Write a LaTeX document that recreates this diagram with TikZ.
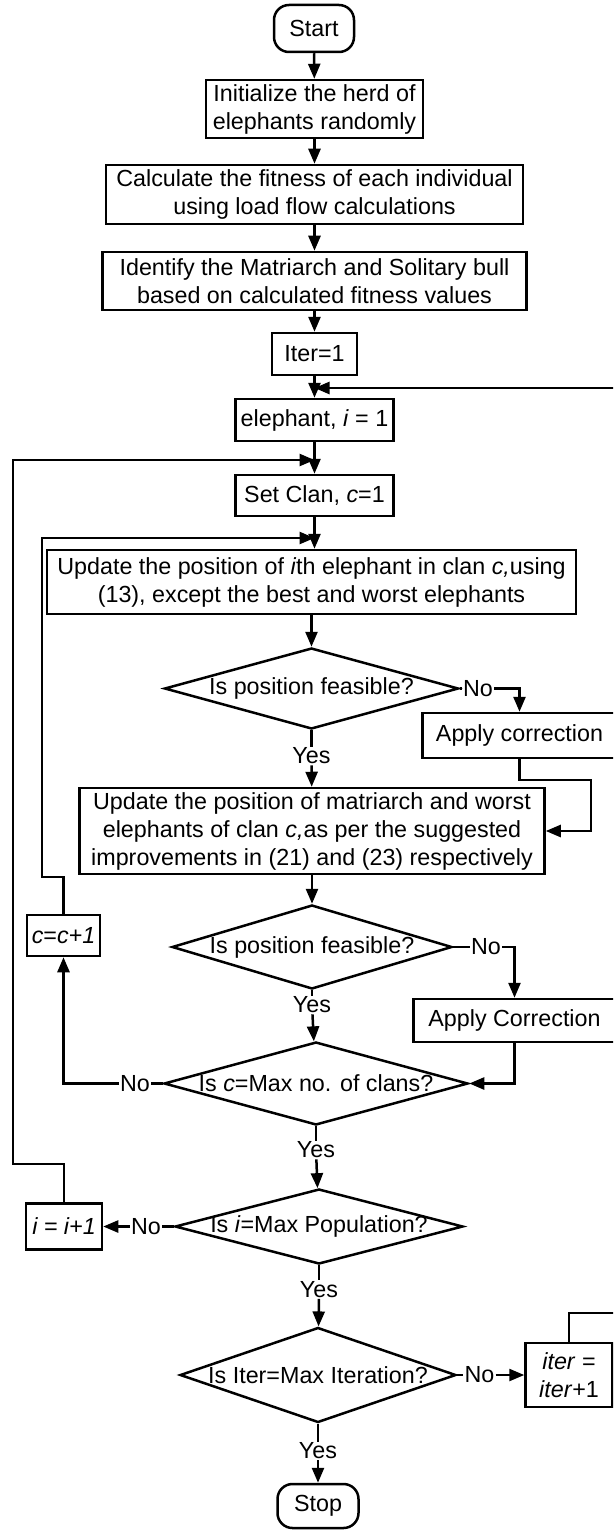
\documentclass[tikz,border=0pt]{standalone}
\usepackage{fontspec}
\setmainfont{Liberation Sans}
\usetikzlibrary{arrows.meta,shapes.geometric,calc}

\begin{document}
\begin{tikzpicture}[x=1pt, y=-1pt,
  font=\fontsize{23.3}{28}\selectfont,
  procbox/.style={draw, line width=2.5pt, rectangle, align=center, inner sep=2pt},
  termbox/.style={draw, line width=2.5pt, rectangle, rounded corners=15pt, inner sep=2pt},
  decision/.style={draw, line width=2.5pt, diamond, aspect=3.6, inner sep=-8pt},
  lbl/.style={inner sep=1pt},
  link/.style={line width=2.5pt},
  flow/.style={line width=2.5pt, -{Triangle[length=15pt,width=12pt]}}]
  \useasboundingbox (0,0) rectangle (613,1530);
  \clip (0,0) rectangle (613,1530);

  \node[termbox, minimum width=80pt, minimum height=47pt] at (314,28.5) (start) {Start};
  \node[procbox, minimum width=217pt, minimum height=58pt] at (314.5,109) (init) {Initialize the herd of\\elephants randomly};
  \node[procbox, minimum width=417pt, minimum height=59pt] at (314.5,194.5) (calc) {Calculate the fitness of each individual\\using load flow calculations};
  \node[procbox, minimum width=424pt, minimum height=58pt] at (314.5,281) (ident) {Identify the Matriarch and Solitary bull\\based on calculated fitness values};
  \node[procbox, minimum width=85pt, minimum height=42pt] at (314.5,354) (iter1) {Iter=1};
  \node[procbox, minimum width=158pt, minimum height=42pt] at (314.5,420) (eleph) {elephant, \textit{i} = 1};
  \node[procbox, minimum width=158pt, minimum height=41pt] at (314.5,495.5) (setclan) {Set Clan, \textit{c}=1};
  \node[procbox, minimum width=529pt, minimum height=64pt] at (311.5,582) (upd1) {Update the position of \textit{i}th elephant in clan \textit{c,}using\\(13), except the best and worst elephants};

  \node[decision, minimum width=294pt, minimum height=81pt] at (311.5,688.5) (feas1) {Is position feasible?};
  \node[procbox, minimum width=194pt, minimum height=45pt] at (519.5,735.5) (corr1) {Apply correction};
  \node[procbox, minimum width=465pt, minimum height=86pt] at (312,831) (upd2) {Update the position of matriarch and worst\\elephants of clan \textit{c,}as per the suggested\\improvements in (21) and (23) respectively};

  \node[decision, minimum width=280pt, minimum height=84pt] at (312,947) (feas2) {Is position feasible?};
  \node[procbox, minimum width=202pt, minimum height=43pt] at (514.5,1020.5) (corr2) {Apply Correction};
  \node[decision, minimum width=304pt, minimum height=83pt] at (316,1083.5) (clans) {Is \textit{c}=Max no. of clans?};
  \node[procbox, minimum width=73pt, minimum height=41pt] at (63.5,935.5) (cinc) {\textit{c}=\textit{c+1}};

  \node[decision, minimum width=288pt, minimum height=75pt] at (319,1226.5) (popul) {Is \textit{i}=Max Population?};
  \node[procbox, minimum width=76pt, minimum height=46pt] at (64,1226.5) (iinc) {\textit{i = i+1}};
  \node[decision, minimum width=276pt, minimum height=95pt] at (318,1375) (maxit) {Is Iter=Max Iteration?};
  \node[procbox, minimum width=87pt, minimum height=64pt] at (569,1375) (iterinc) {\textit{iter} =\\\textit{iter}+1};
  \node[termbox, minimum width=81pt, minimum height=44pt] at (318,1506) (stop) {Stop};

  % branch labels
  \node[lbl] at (478,688.5) (no1) {No};
  \node[lbl] at (311.5,756) (yes1) {Yes};
  \node[lbl] at (486,947) (no2) {No};
  \node[lbl] at (312,1005) (yes2) {Yes};
  \node[lbl] at (135,1083.5) (no3) {No};
  \node[lbl] at (316,1150) (yes3) {Yes};
  \node[lbl] at (146,1226.5) (no4) {No};
  \node[lbl] at (319,1289.5) (yes4) {Yes};
  \node[lbl] at (479.5,1375) (no5) {No};
  \node[lbl] at (318,1451) (yes5) {Yes};

  % merge points of the loops
  \coordinate (ja) at (314.5,388);
  \coordinate (jb) at (314.5,460);
  \coordinate (jc) at (314.5,538);

  \draw[flow] (start) -- (init);
  \draw[flow] (init) -- (calc);
  \draw[flow] (calc) -- (ident);
  \draw[flow] (ident) -- (iter1);
  \draw[flow] (iter1) -- (eleph);
  \draw[flow] (eleph) -- (setclan);
  \draw[flow] (setclan) -- (setclan |- upd1.north);
  \draw[flow] (upd1) -- (feas1);

  \draw[link] (feas1) -- (no1);
  \draw[flow] (no1) -| (corr1);
  \draw[link] (feas1) -- (yes1);
  \draw[flow] (yes1) -- (upd2);
  \draw[flow] (corr1) |- (591,780) |- (upd2);

  \draw[flow] (upd2) -- (feas2);
  \draw[link] (feas2) -- (no2);
  \draw[flow] (no2) -| (corr2);
  \draw[link] (feas2) -- (yes2);
  \draw[flow] (yes2) -- (clans);
  \draw[flow] (corr2) |- (clans);

  \draw[link] (clans) -- (no3);
  \draw[flow] (no3) -| (cinc);
  \draw[flow] (cinc) |- (42,877) |- (jc);
  \draw[link] (clans) -- (yes3);
  \draw[flow] (yes3) -- (popul);

  \draw[link] (popul) -- (no4);
  \draw[flow] (no4) -- (iinc);
  \draw[flow] (iinc) |- (13,1164) |- (jb);
  \draw[link] (popul) -- (yes4);
  \draw[flow] (yes4) -- (maxit);

  \draw[link] (maxit) -- (no5);
  \draw[flow] (no5) -- (iterinc);
  \draw[flow] (iterinc) |- (640,1313) |- (ja);
  \draw[link] (maxit) -- (yes5);
  \draw[flow] (yes5) -- (stop);
\end{tikzpicture}
\end{document}
